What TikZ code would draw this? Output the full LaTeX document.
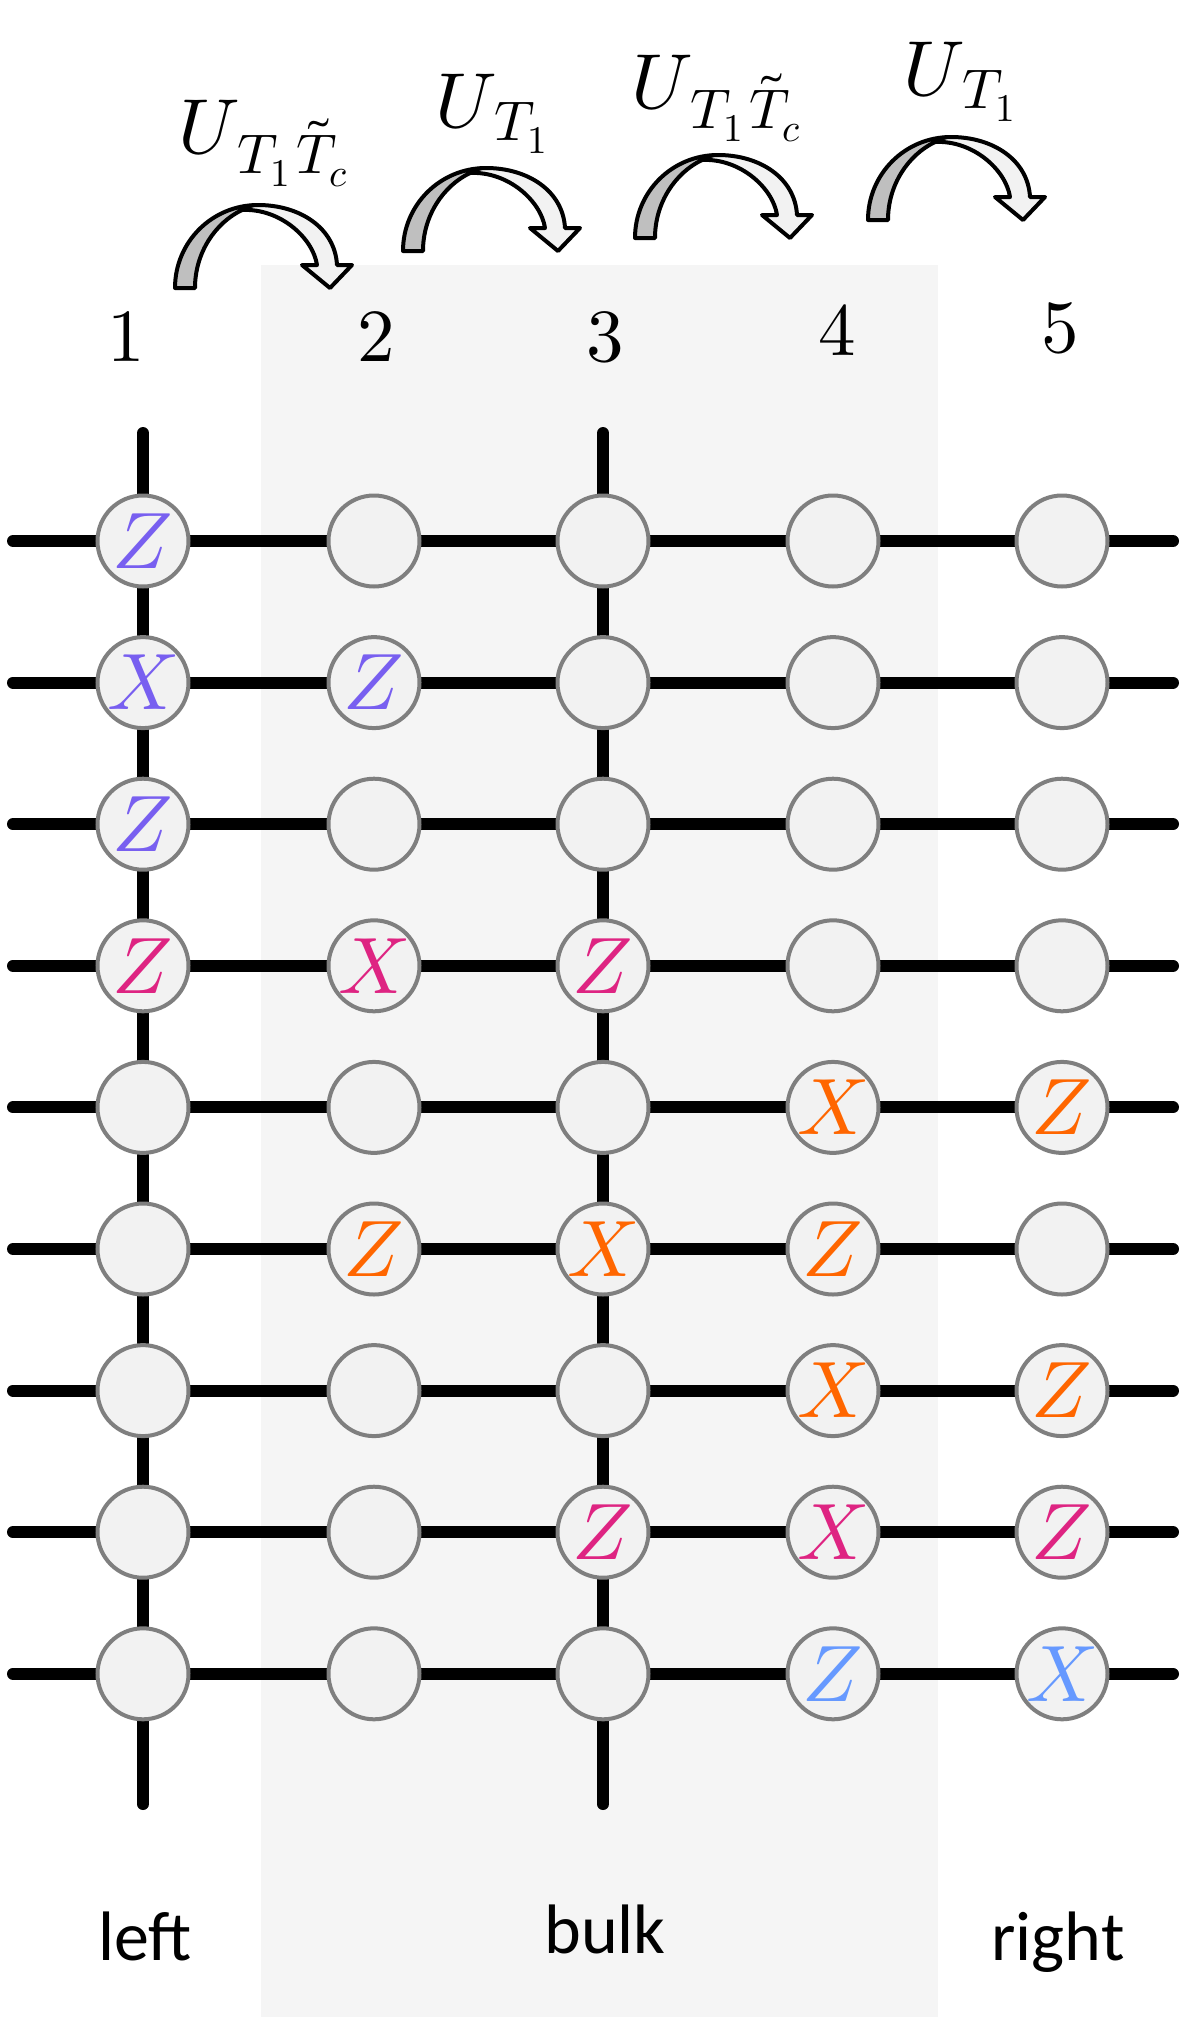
\documentclass[tikz,border=0pt]{standalone}
\usepackage{graphicx}
\usepackage{unicode-math}
\setmathfont{Latin Modern Math}
\newfontfamily\labelfont{Carlito}
\definecolor{cpurple}{HTML}{785FF0}
\definecolor{cmag}{HTML}{DE2482}
\definecolor{corange}{HTML}{FF6600}
\definecolor{cblue}{HTML}{6699FF}
\definecolor{cfill}{HTML}{F2F2F2}
\definecolor{cring}{HTML}{7F7F7F}
\definecolor{cbulk}{HTML}{F5F5F5}
\definecolor{cdark}{HTML}{BFBFBF}
\newcommand{\subpart}[2]{\raisebox{#1}{\fontsize{56}{60}\selectfont$#2$}}
\tikzset{
  qubit/.style={circle, draw=cring, fill=cfill, line width=4pt, minimum size=91pt, inner sep=0pt},
  pauli/.style={inner sep=0pt, font=\fontsize{80}{96}\selectfont},
  wire/.style={line width=12pt, line cap=round, black},
  oplabel/.style={inner sep=0pt, anchor=base west, font=\fontsize{78}{90}\selectfont},
  colnum/.style={inner sep=0pt, anchor=base, font=\fontsize{75}{90}\selectfont},
  region/.style={inner sep=0pt, anchor=base, font=\labelfont\fontsize{70}{84}\selectfont},
  darkband/.style={fill=cdark, draw=black, line width=4pt, line join=round},
  lightband/.style={fill=cfill, draw=black, line width=4pt, line join=round},
  curvearrow/.pic={
    \filldraw[darkband] (0,0) .. controls (0,-46) and (37,-83) .. (83,-83)
      .. controls (77,-83) and (71,-81) .. (67,-78)
      .. controls (40,-65) and (20,-35) .. (20,0) -- cycle;
    \filldraw[lightband] (83,-83) .. controls (125,-83) and (160,-60) .. (162,-23)
      -- (177,-23) -- (155,0) -- (127,-23) -- (142,-23)
      .. controls (138,-50) and (105,-80) .. (67,-78)
      .. controls (72,-82) and (78,-83) .. (83,-83) -- cycle;
  }
}
\begin{document}
\begin{tikzpicture}[x=1pt,y=-1pt]
\useasboundingbox (0,0) rectangle (1182,2024);
\fill[white] (0,0) rectangle (1182,2024);
% bulk region
\fill[cbulk] (261,265) rectangle (938,2017);
% curved arrows
\pic at (175,288) {curvearrow};
\pic at (403,251) {curvearrow};
\pic at (635,238) {curvearrow};
\pic at (868,220) {curvearrow};
% operator labels
\node[oplabel] (op1) at (178,153) {$U$\kern-2pt\subpart{-20pt}{T_1\mkern2mu\tilde{T}_c}};
\node[oplabel] (op2) at (435,127) {$U$\kern-2pt\subpart{-13pt}{T_1}};
\node[oplabel] (op3) at (631,108) {$U$\kern-2pt\subpart{-20pt}{T_1\mkern2mu\tilde{T}_c}};
\node[oplabel] (op4) at (903,95) {$U$\kern-2pt\subpart{-13pt}{T_1}};
% column numbers
\node[colnum] (c1) at (126,361) {$1$};
\node[colnum] (c2) at (376,361) {$2$};
\node[colnum] (c3) at (605,361) {$3$};
\node[colnum] (c4) at (837,355) {$4$};
\node[colnum] (c5) at (1060,352) {$5$};
% wires
\foreach \r in {1,...,9}{
  \coordinate (wl\r) at (13,{541+141.6*(\r-1)});
  \coordinate (wr\r) at (1173,{541+141.6*(\r-1)});
  \draw[wire] (wl\r) -- (wr\r);
}
\coordinate (vt1) at (143,433);
\coordinate (vb1) at (143,1804);
\coordinate (vt3) at (603,433);
\coordinate (vb3) at (603,1804);
\draw[wire] (vt1) -- (vb1);
\draw[wire] (vt3) -- (vb3);
% qubits
\foreach \c/\x in {1/143,2/374,3/603,4/833,5/1062}{
  \foreach \r in {1,...,9}{
    \node[qubit] (q-\r-\c) at (\x,{541+141.6*(\r-1)}) {};
  }
}
% Pauli labels
\foreach \r/\c/\p/\col in {1/1/Z/cpurple, 2/1/X/cpurple, 2/2/Z/cpurple, 3/1/Z/cpurple,
  4/1/Z/cmag, 4/2/X/cmag, 4/3/Z/cmag,
  5/4/X/corange, 5/5/Z/corange,
  6/2/Z/corange, 6/3/X/corange, 6/4/Z/corange,
  7/4/X/corange, 7/5/Z/corange,
  8/3/Z/cmag, 8/4/X/cmag, 8/5/Z/cmag,
  9/4/Z/cblue, 9/5/X/cblue}{
  \node[pauli, text=\col] (p-\r-\c) at (q-\r-\c) {$\p$};
}
% region labels
\node[region] (lleft) at (145,1960) {left};
\node[region] (lbulk) at (605,1953) {bulk};
\node[region] (lright) at (1058,1960) {right};
\end{tikzpicture}
\end{document}
